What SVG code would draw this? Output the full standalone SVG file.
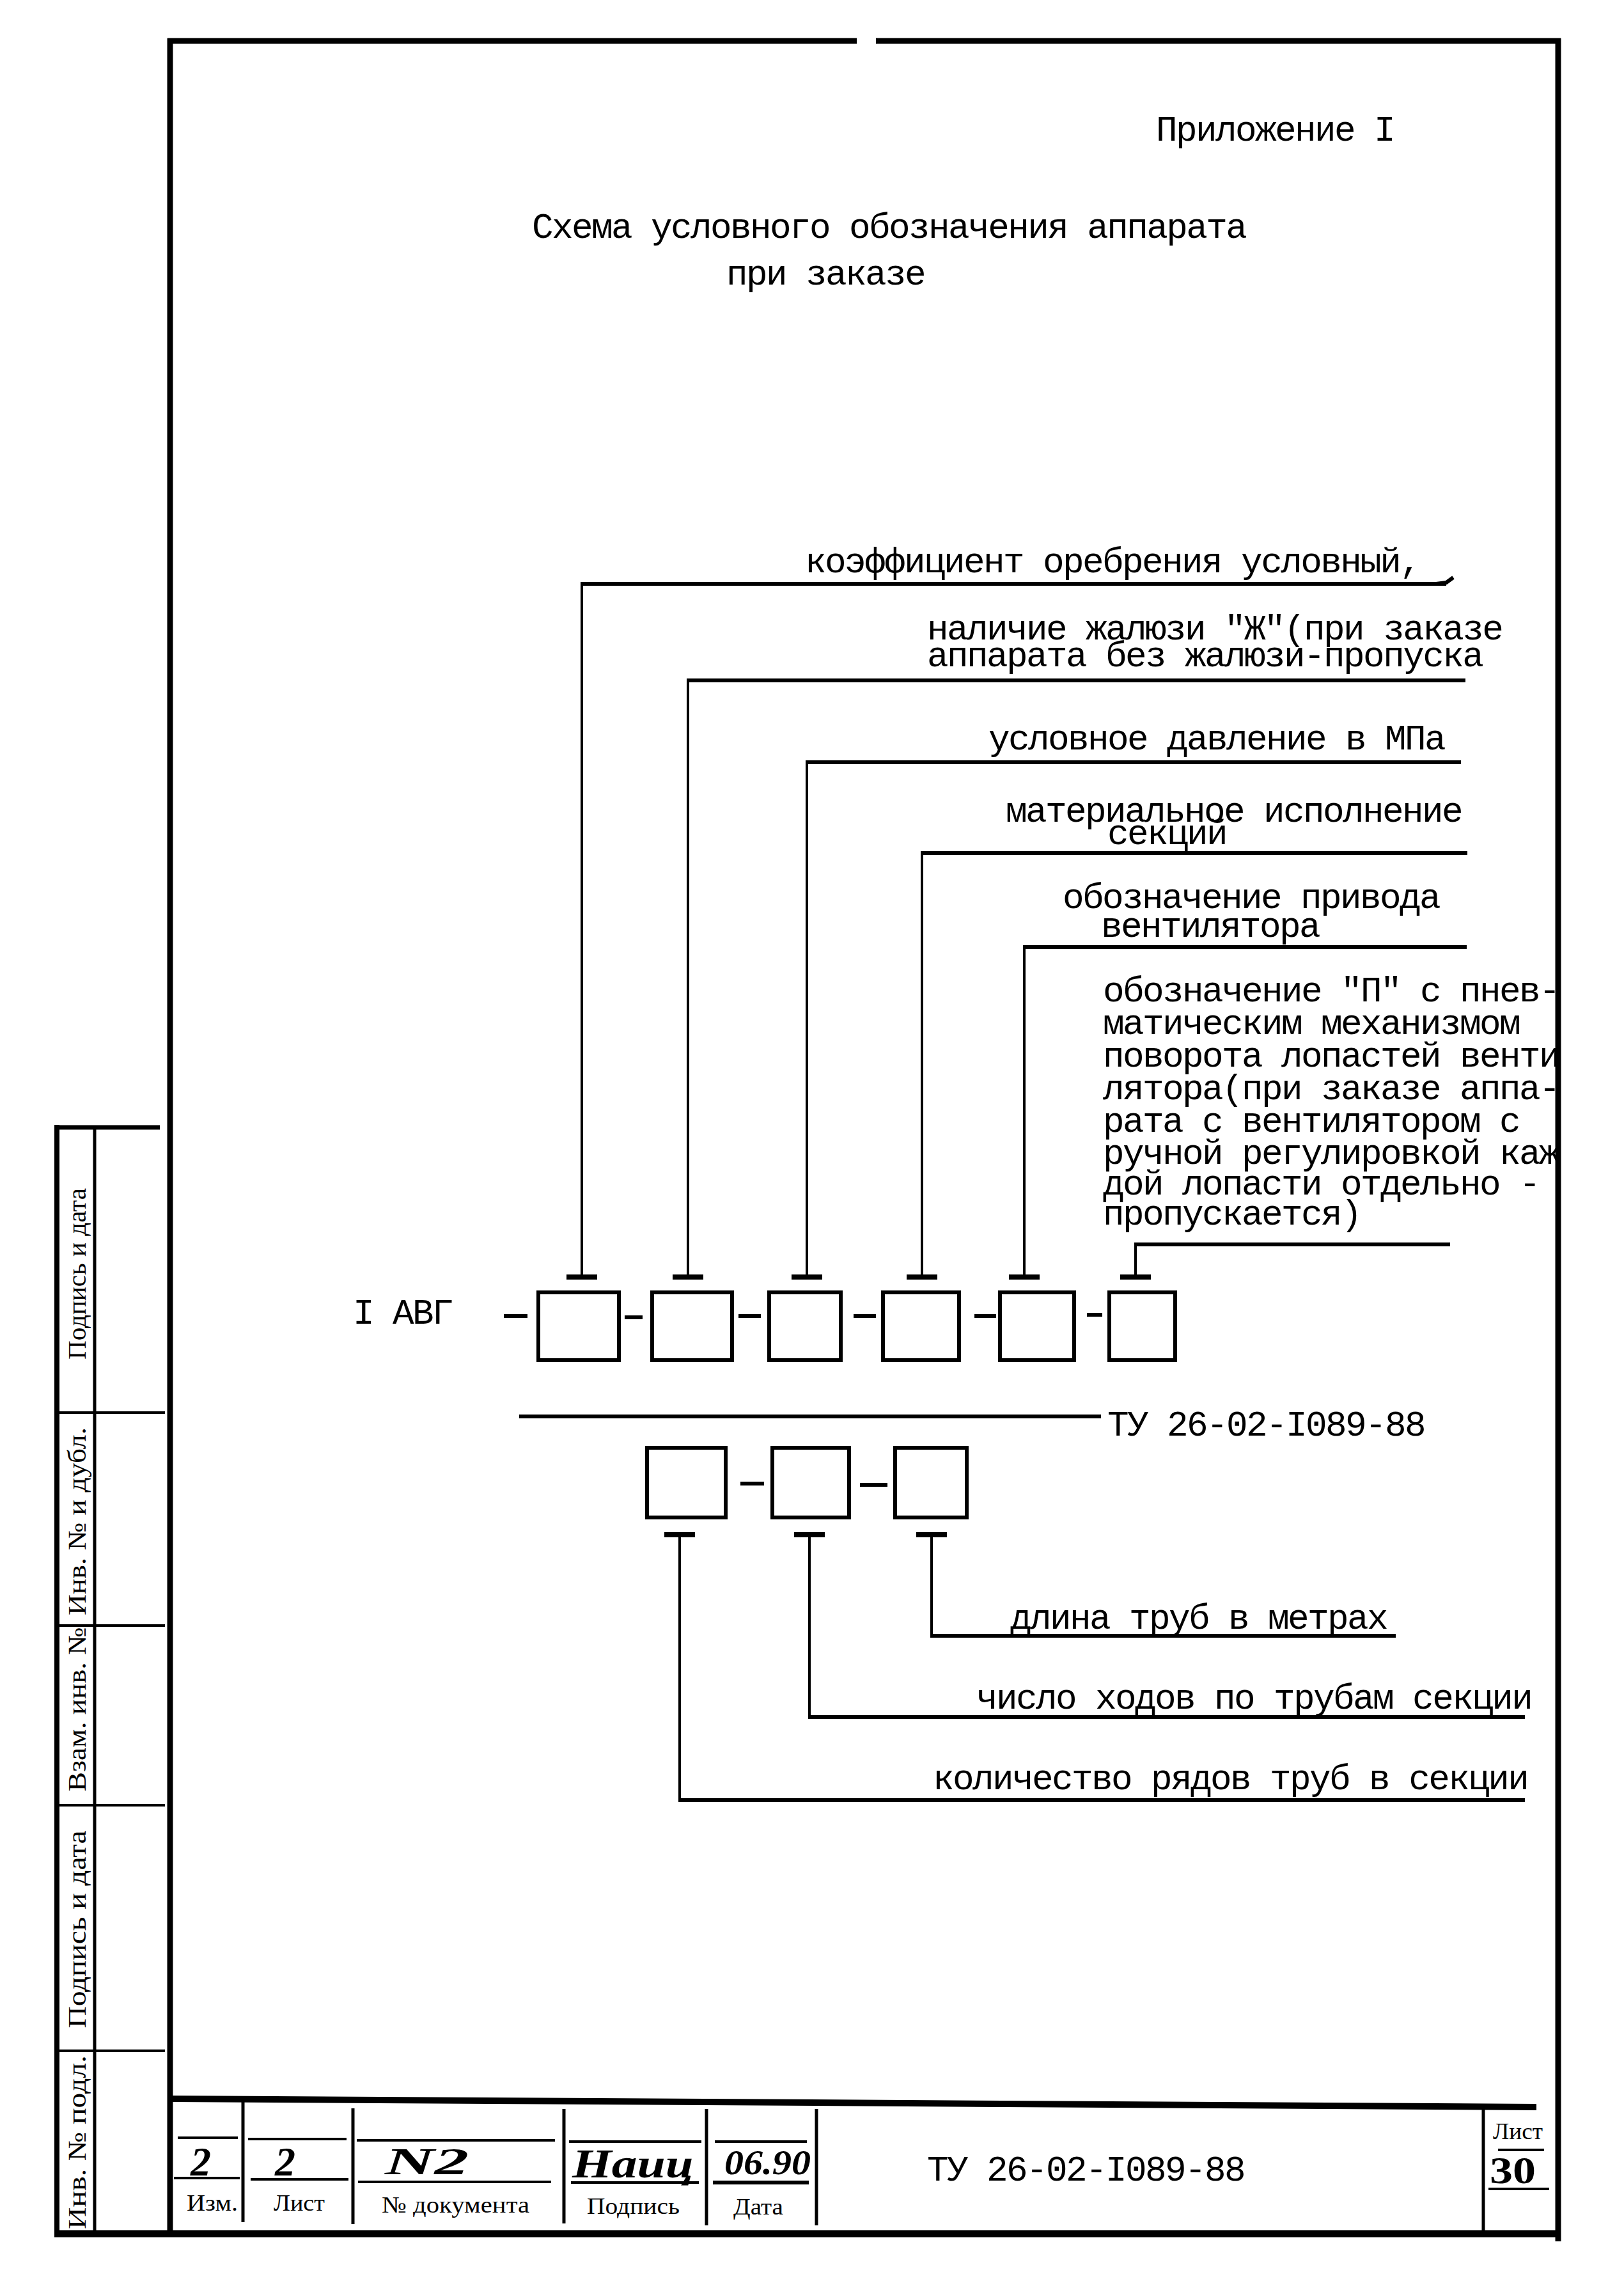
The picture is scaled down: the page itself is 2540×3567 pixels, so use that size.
<svg xmlns="http://www.w3.org/2000/svg" width="2540" height="3567" viewBox="0 0 2540 3567">
<style>
.fr{stroke:#000;stroke-width:9;fill:none}
.th{stroke:#000;stroke-width:4;fill:none}
.dv{stroke:#000;stroke-width:5;fill:none}
.ln{stroke:#000;stroke-width:6;fill:none}
.v{stroke:#000;stroke-width:4;fill:none}
.bar{stroke:#000;stroke-width:8}
.bx{fill:none;stroke:#000;stroke-width:6}
.tw{font-family:"Liberation Mono","DejaVu Sans Mono",monospace;font-size:56px;letter-spacing:-2.6px;fill:#000}
.sf{font-family:"Liberation Serif","DejaVu Serif",serif;font-size:36px;fill:#000}
.rt{font-family:"Liberation Serif","DejaVu Serif",serif;font-size:40px;fill:#000}
.hw{font-family:"Liberation Serif","DejaVu Serif",serif;font-style:italic;font-weight:bold;fill:#000}
</style>
<rect width="2540" height="3567" fill="#fff"/>

<g id="frame">
  <line class="fr" x1="262" y1="64" x2="1340" y2="64"/>
  <line class="fr" x1="1370" y1="64" x2="2441" y2="64"/>
  <line class="fr" x1="266" y1="60" x2="266" y2="3497"/>
  <line class="fr" x1="2437" y1="60" x2="2437" y2="3505"/>
  <line class="fr" x1="85" y1="3493" x2="2441" y2="3493" style="stroke-width:11"/>
</g>

<g id="side-strip">
  <line class="fr" x1="89" y1="1759" x2="89" y2="3497" style="stroke-width:8"/>
  <line class="fr" x1="85" y1="1763" x2="250" y2="1763" style="stroke-width:7"/>
  <line class="th" x1="89" y1="2209" x2="258" y2="2209"/>
  <line class="th" x1="89" y1="2542" x2="258" y2="2542"/>
  <line class="th" x1="89" y1="2823" x2="258" y2="2823"/>
  <line class="th" x1="89" y1="3207" x2="258" y2="3207"/>
  <line class="dv" x1="148" y1="1766" x2="148" y2="3490"/>
  <text class="rt" transform="translate(134,1992) rotate(-90)" text-anchor="middle" textLength="268" lengthAdjust="spacingAndGlyphs">Подпись и дата</text>
  <text class="rt" transform="translate(134,2379) rotate(-90)" text-anchor="middle" textLength="294" lengthAdjust="spacingAndGlyphs">Инв. № и дубл.</text>
  <text class="rt" transform="translate(134,2673) rotate(-90)" text-anchor="middle" textLength="257" lengthAdjust="spacingAndGlyphs">Взам. инв. №</text>
  <text class="rt" transform="translate(134,3017) rotate(-90)" text-anchor="middle" textLength="309" lengthAdjust="spacingAndGlyphs">Подпись и дата</text>
  <text class="rt" transform="translate(134,3350) rotate(-90)" text-anchor="middle" textLength="272" lengthAdjust="spacingAndGlyphs">Инв. № подл.</text>
</g>

<g id="title-block">
  <line class="fr" x1="270" y1="3282" x2="2403" y2="3295" style="stroke-width:10"/>
  <line class="dv" x1="380" y1="3287" x2="380" y2="3475"/>
  <line class="dv" x1="552" y1="3297" x2="552" y2="3478"/>
  <line class="dv" x1="882" y1="3298" x2="882" y2="3477"/>
  <line class="dv" x1="1105" y1="3298" x2="1105" y2="3480"/>
  <line class="dv" x1="1277" y1="3298" x2="1277" y2="3480"/>
  <line class="dv" x1="2320" y1="3298" x2="2320" y2="3490"/>
  <line class="th" x1="278" y1="3343" x2="372" y2="3343"/>
  <line class="th" x1="388" y1="3345" x2="542" y2="3345"/>
  <line class="th" x1="558" y1="3347" x2="868" y2="3347"/>
  <line class="th" x1="890" y1="3349" x2="1097" y2="3349"/>
  <line class="th" x1="1118" y1="3349" x2="1262" y2="3349"/>
  <line class="th" x1="272" y1="3406" x2="375" y2="3406"/>
  <line class="th" x1="392" y1="3408" x2="545" y2="3408"/>
  <line class="th" x1="560" y1="3412" x2="862" y2="3412"/>
  <line class="th" x1="893" y1="3413" x2="1093" y2="3413"/>
  <line class="th" x1="1115" y1="3413" x2="1265" y2="3413" style="stroke-width:6"/>
  <line class="th" x1="2343" y1="3362" x2="2415" y2="3362"/>
  <line class="th" x1="2328" y1="3423" x2="2423" y2="3423"/>
  <text class="hw" x="298" y="3402" font-size="64">2</text>
  <text class="hw" x="430" y="3402" font-size="64">2</text>
  <text class="hw" x="602" y="3400" font-size="60" textLength="131" lengthAdjust="spacingAndGlyphs">N2</text>
  <text class="hw" x="895" y="3405" font-size="64" textLength="190" lengthAdjust="spacingAndGlyphs">Наиц</text>
  <text class="hw" x="1133" y="3400" font-size="54" textLength="135" lengthAdjust="spacingAndGlyphs">06.90</text>
  <text class="hw" x="2330" y="3414" font-size="60" textLength="72" lengthAdjust="spacingAndGlyphs" style="font-style:normal">30</text>
  <text class="sf" x="292" y="3457" textLength="80" lengthAdjust="spacingAndGlyphs">Изм.</text>
  <text class="sf" x="428" y="3457" textLength="80" lengthAdjust="spacingAndGlyphs">Лист</text>
  <text class="sf" x="597" y="3460" textLength="231" lengthAdjust="spacingAndGlyphs">№ документа</text>
  <text class="sf" x="918" y="3462" textLength="145" lengthAdjust="spacingAndGlyphs">Подпись</text>
  <text class="sf" x="1147" y="3463" textLength="78" lengthAdjust="spacingAndGlyphs">Дата</text>
  <text class="sf" x="2335" y="3345" textLength="78" lengthAdjust="spacingAndGlyphs">Лист</text>
  <text class="tw" x="1450" y="3410">ТУ 26-02-I089-88</text>
</g>

<g id="heading">
  <text class="tw" x="1808" y="220">Приложение I</text>
  <text class="tw" x="832" y="372">Схема условного обозначения аппарата</text>
  <text class="tw" x="1136" y="445">при заказе</text>
</g>

<g id="connectors">
  <line class="v" x1="910" y1="1996" x2="910" y2="911"/>
  <line class="ln" x1="908" y1="913" x2="2262" y2="913"/>
  <path class="ln" d="M2246,913 L2262,911 L2273,903"/>
  <line class="v" x1="1076" y1="1996" x2="1076" y2="1062"/>
  <line class="ln" x1="1074" y1="1064" x2="2292" y2="1064"/>
  <line class="v" x1="1262" y1="1996" x2="1262" y2="1190"/>
  <line class="ln" x1="1260" y1="1192" x2="2285" y2="1192"/>
  <line class="v" x1="1442" y1="1996" x2="1442" y2="1332"/>
  <line class="ln" x1="1440" y1="1334" x2="2295" y2="1334"/>
  <line class="v" x1="1602" y1="1996" x2="1602" y2="1479"/>
  <line class="ln" x1="1600" y1="1481" x2="2294" y2="1481"/>
  <line class="v" x1="1776" y1="1996" x2="1776" y2="1944"/>
  <line class="ln" x1="1774" y1="1946" x2="2268" y2="1946"/>
  <line class="bar" x1="886" y1="1997" x2="934" y2="1997"/>
  <line class="bar" x1="1052" y1="1997" x2="1100" y2="1997"/>
  <line class="bar" x1="1238" y1="1997" x2="1286" y2="1997"/>
  <line class="bar" x1="1418" y1="1997" x2="1466" y2="1997"/>
  <line class="bar" x1="1578" y1="1997" x2="1626" y2="1997"/>
  <line class="bar" x1="1752" y1="1997" x2="1800" y2="1997"/>
  <line class="ln" x1="788" y1="2058" x2="825" y2="2058"/>
  <line class="ln" x1="977" y1="2060" x2="1005" y2="2060"/>
  <line class="ln" x1="1155" y1="2058" x2="1190" y2="2058"/>
  <line class="ln" x1="1335" y1="2058" x2="1370" y2="2058"/>
  <line class="ln" x1="1524" y1="2058" x2="1558" y2="2058"/>
  <line class="ln" x1="1700" y1="2056" x2="1724" y2="2056"/>
  <line class="ln" x1="812" y1="2215" x2="1722" y2="2215"/>
  <line class="ln" x1="1158" y1="2320" x2="1195" y2="2320"/>
  <line class="ln" x1="1345" y1="2322" x2="1388" y2="2322"/>
  <line class="bar" x1="1039" y1="2400" x2="1087" y2="2400"/>
  <line class="bar" x1="1242" y1="2400" x2="1290" y2="2400"/>
  <line class="bar" x1="1433" y1="2400" x2="1481" y2="2400"/>
  <line class="v" x1="1063" y1="2400" x2="1063" y2="2817"/>
  <line class="ln" x1="1061" y1="2815" x2="2385" y2="2815"/>
  <line class="v" x1="1266" y1="2400" x2="1266" y2="2687"/>
  <line class="ln" x1="1264" y1="2685" x2="2385" y2="2685"/>
  <line class="v" x1="1457" y1="2400" x2="1457" y2="2560"/>
  <line class="ln" x1="1455" y1="2558" x2="2183" y2="2558"/>
</g>

<g id="code-head">
  <text class="tw" x="552" y="2070">I АВГ</text>
</g>
<g id="box1"><rect class="bx" x="842" y="2021" width="126" height="106"/></g>
<g id="box2"><rect class="bx" x="1020" y="2021" width="125" height="106"/></g>
<g id="box3"><rect class="bx" x="1203" y="2021" width="112" height="106"/></g>
<g id="box4"><rect class="bx" x="1381" y="2021" width="119" height="106"/></g>
<g id="box5"><rect class="bx" x="1564" y="2021" width="116" height="106"/></g>
<g id="box6"><rect class="bx" x="1735" y="2021" width="103" height="106"/></g>
<g id="tu-label"><text class="tw" x="1732" y="2245">ТУ 26-02-I089-88</text></g>
<g id="boxA"><rect class="bx" x="1012" y="2264" width="123" height="109"/></g>
<g id="boxB"><rect class="bx" x="1208" y="2264" width="120" height="109"/></g>
<g id="boxC"><rect class="bx" x="1400" y="2264" width="112" height="109"/></g>

<g id="label-1"><text class="tw" x="1259" y="895">коэффициент оребрения условный,</text></g>
<g id="label-2">
  <text class="tw" x="1450" y="1000">наличие жалюзи "Ж"(при заказе</text>
  <text class="tw" x="1450" y="1042">аппарата без жалюзи-пропуска</text>
</g>
<g id="label-3"><text class="tw" x="1546" y="1172">условное давление в МПа</text></g>
<g id="label-4">
  <text class="tw" x="1573" y="1285">материальное исполнение</text>
  <text class="tw" x="1732" y="1320">секций</text>
</g>
<g id="label-5">
  <text class="tw" x="1662" y="1420">обозначение привода</text>
  <text class="tw" x="1722" y="1465">вентилятора</text>
</g>
<g id="label-6">
  <text class="tw" x="1725" y="1566">обозначение "П" с пнев-</text>
  <text class="tw" x="1725" y="1617">матическим механизмом</text>
  <text class="tw" x="1725" y="1668">поворота лопастей венти</text>
  <text class="tw" x="1725" y="1719">лятора(при заказе аппа-</text>
  <text class="tw" x="1725" y="1770">рата с вентилятором с</text>
  <text class="tw" x="1725" y="1820">ручной регулировкой каж</text>
  <text class="tw" x="1725" y="1868">дой лопасти отдельно -</text>
  <text class="tw" x="1725" y="1915">пропускается)</text>
</g>
<g id="label-7"><text class="tw" x="1580" y="2547">длина труб в метрах</text></g>
<g id="label-8"><text class="tw" x="1527" y="2672">число ходов по трубам секции</text></g>
<g id="label-9"><text class="tw" x="1459" y="2798">количество рядов труб в секции</text></g>
</svg>
